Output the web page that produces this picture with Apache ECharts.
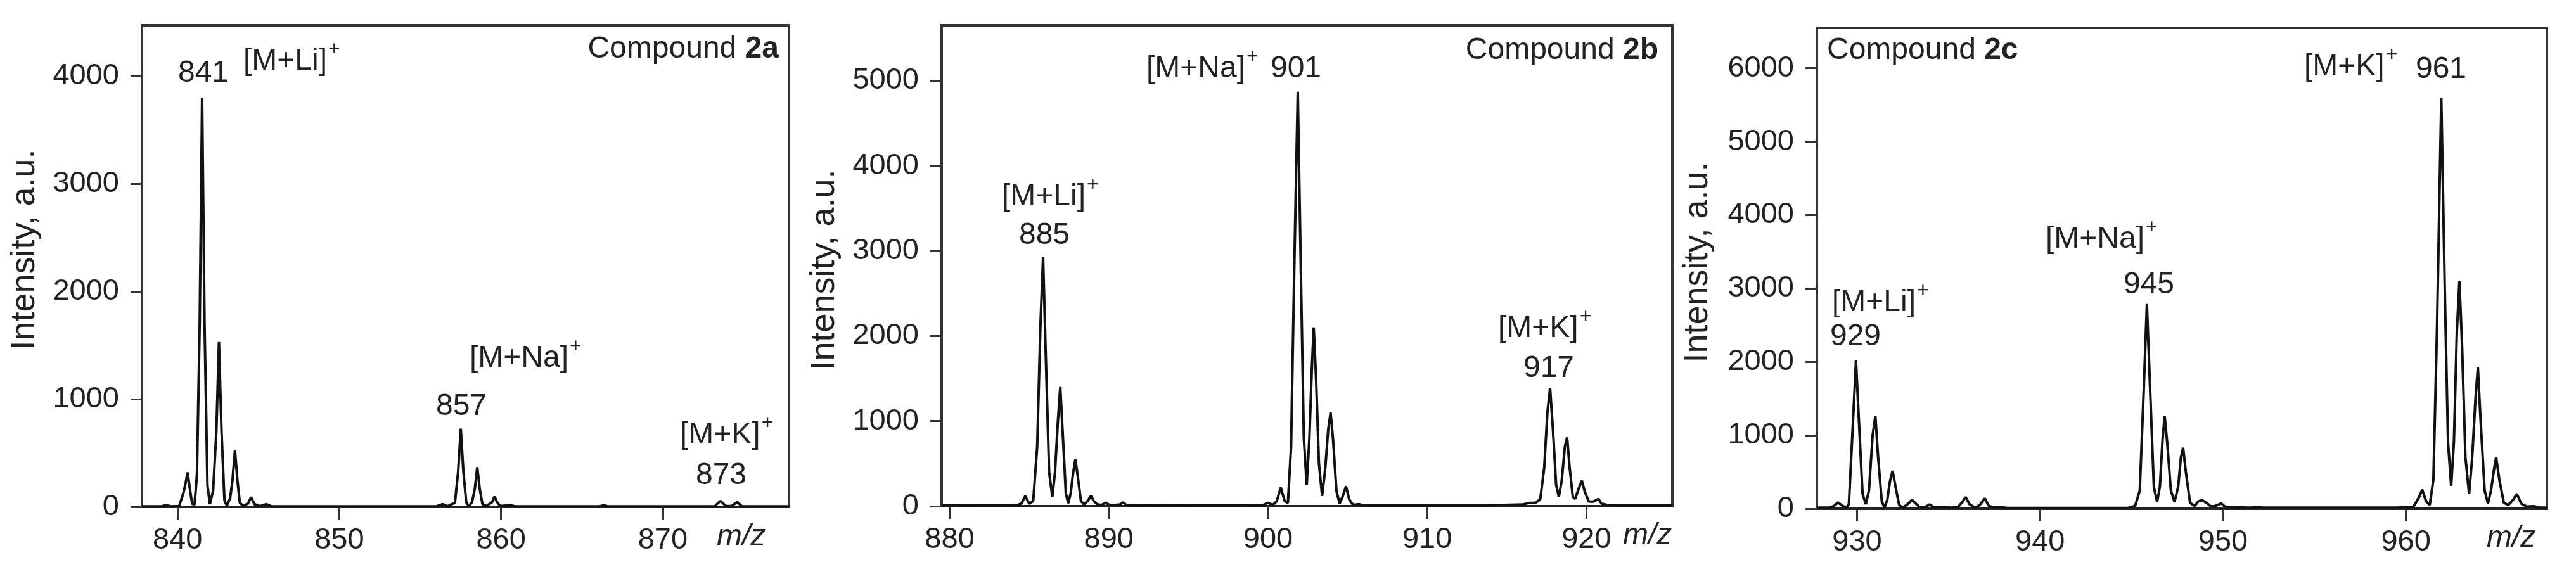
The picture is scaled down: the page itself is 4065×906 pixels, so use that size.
<!DOCTYPE html>
<html>
<head>
<meta charset="utf-8">
<title>MALDI spectra, compounds 2a-2c</title>
<script src="https://cdn.jsdelivr.net/npm/echarts@6/dist/echarts.min.js"></script>
<style>
  html, body { margin: 0; padding: 0; background: #fff; }
  #chart { width: 4065px; height: 906px; }
</style>
</head>
<body>
<div id="chart"></div>
<script>
// spectrum of compound 2a: [m/z, intensity]
const spec2a = [
  [837.8, 5], [839.0, 5], [839.3, 15], [839.6, 5], [840.1, 8], [840.3, 100], [840.38, 140],
  [840.5, 220], [840.62, 320], [840.75, 180], [840.9, 30], [841.05, 20], [841.2, 300],
  [841.37, 1700], [841.52, 3800], [841.67, 1700], [841.85, 200], [842.0, 25], [842.2, 150],
  [842.4, 700], [842.56, 1530], [842.72, 700], [842.9, 60], [843.05, 10], [843.25, 80],
  [843.4, 250], [843.55, 525], [843.7, 250], [843.85, 40], [844.05, 8], [844.35, 30],
  [844.55, 90], [844.75, 25], [845.1, 6], [845.5, 25], [845.8, 5], [856.0, 5], [856.4, 25],
  [856.7, 5], [857.15, 40], [857.35, 330], [857.51, 726], [857.67, 330], [857.85, 40],
  [858.0, 10], [858.2, 40], [858.38, 170], [858.53, 368], [858.68, 170], [858.85, 25],
  [859.1, 8], [859.45, 45], [859.6, 95], [859.75, 45], [859.95, 8], [860.57, 15], [860.9, 5],
  [866.1, 5], [866.35, 15], [866.6, 5], [873.2, 5], [873.56, 55], [873.9, 8], [874.25, 8],
  [874.6, 45], [874.9, 5], [877.8, 5]
];

// spectrum of compound 2b
const spec2b = [
  [879.5, 10], [882, 8], [884.2, 10], [884.5, 30], [884.75, 120], [885.0, 30], [885.25, 60],
  [885.5, 700], [885.7, 2100], [885.87, 2930], [886.05, 1700], [886.25, 400], [886.45, 110],
  [886.62, 400], [886.8, 1000], [886.95, 1400], [887.12, 800], [887.3, 150], [887.45, 35],
  [887.6, 150], [887.75, 380], [887.9, 550], [888.05, 350], [888.25, 60], [888.45, 20],
  [888.7, 70], [888.88, 125], [889.05, 60], [889.3, 20], [889.55, 15], [889.8, 40],
  [890.05, 15], [890.4, 15], [890.7, 20], [890.9, 45], [891.1, 15], [891.6, 10], [893.5, 12],
  [895, 8], [899.0, 10], [899.7, 15], [900.0, 40], [900.3, 15], [900.55, 60], [900.8, 220],
  [901.05, 60], [901.25, 40], [901.45, 700], [901.65, 2800], [901.87, 4870], [902.05, 2900],
  [902.25, 800], [902.43, 250], [902.6, 800], [902.75, 1600], [902.87, 2100], [903.02, 1500],
  [903.2, 500], [903.4, 120], [903.6, 450], [903.78, 900], [903.93, 1100], [904.08, 800],
  [904.3, 180], [904.5, 30], [904.7, 120], [904.9, 235], [905.1, 80], [905.35, 15],
  [905.7, 25], [906.0, 10], [910, 10], [914, 12], [916.0, 20], [916.4, 40], [916.8, 40],
  [917.1, 80], [917.35, 450], [917.55, 1100], [917.72, 1390], [917.9, 900], [918.1, 250],
  [918.27, 110], [918.45, 300], [918.65, 700], [918.79, 808], [918.95, 450], [919.15, 110],
  [919.3, 86], [919.5, 200], [919.72, 300], [919.9, 170], [920.15, 55], [920.4, 52],
  [920.6, 70], [920.76, 86], [920.95, 30], [921.3, 15], [921.6, 10], [925.4, 10]
];

// spectrum of compound 2c
const spec2c = [
  [927.8, 15], [928.5, 15], [928.75, 40], [928.96, 86], [929.2, 40], [929.4, 15], [929.55, 60],
  [929.72, 900], [929.94, 2018], [930.12, 1100], [930.3, 200], [930.48, 63], [930.65, 250],
  [930.85, 1000], [931.0, 1267], [931.15, 700], [931.35, 100], [931.5, 15], [931.65, 120],
  [931.8, 380], [931.94, 516], [932.1, 300], [932.3, 50], [932.5, 15], [932.75, 60],
  [933.0, 121], [933.25, 60], [933.45, 15], [933.7, 20], [933.96, 58], [934.2, 20],
  [934.5, 20], [934.8, 25], [935.1, 15], [935.5, 20], [935.75, 90], [935.93, 160],
  [936.15, 60], [936.45, 15], [936.7, 50], [936.98, 140], [937.2, 40], [937.45, 20],
  [937.7, 25], [938.2, 10], [942, 10], [944.8, 10], [945.2, 40], [945.45, 250], [945.65, 1500],
  [945.84, 2790], [946.02, 1600], [946.22, 300], [946.4, 95], [946.55, 300], [946.7, 950],
  [946.81, 1263], [946.95, 900], [947.15, 250], [947.35, 95], [947.55, 300], [947.7, 700],
  [947.82, 830], [947.97, 500], [948.2, 80], [948.45, 40], [948.65, 100], [948.86, 117],
  [949.1, 80], [949.35, 30], [949.6, 40], [949.9, 73], [950.1, 30], [950.5, 20], [951.5, 15],
  [951.83, 22], [952.2, 15], [956, 15], [959.5, 15], [960.4, 25], [960.7, 150], [960.89, 260],
  [961.1, 100], [961.3, 52], [961.5, 400], [961.7, 2500], [961.93, 5600], [962.12, 3000],
  [962.3, 900], [962.47, 311], [962.62, 900], [962.78, 2400], [962.92, 3100], [963.07, 2200],
  [963.25, 700], [963.45, 203], [963.62, 700], [963.8, 1500], [963.93, 1925], [964.08, 1200],
  [964.3, 250], [964.48, 74], [964.65, 250], [964.82, 550], [964.93, 700], [965.1, 400],
  [965.35, 80], [965.6, 52], [965.85, 120], [966.06, 203], [966.3, 70], [966.6, 30],
  [966.98, 35], [967.3, 15], [967.7, 15]
];

// axis ranges and tick labels
const xRanges = [[837.8, 877.8], [879.5, 925.4], [927.8, 967.7]];
const yMax = [4470, 5650, 6550];
const xTicks = [[840, 850, 860, 870], [880, 890, 900, 910, 920], [930, 940, 950, 960]];

const FONT = '"Liberation Sans", Arial, sans-serif';
const INK = '#222';

const chart = echarts.init(document.getElementById('chart'));

const grids = [
  { left: 224, top: 40, width: 1021, height: 760 },
  { left: 1486, top: 40, width: 1153, height: 759 },
  { left: 2867, top: 44, width: 1152, height: 759 }
].map(g => Object.assign(g, { show: true, borderColor: '#333', borderWidth: 4, backgroundColor: '#fff' }));

const xAxes = xRanges.map((r, i) => ({
  type: 'value',
  gridIndex: i,
  min: r[0],
  max: r[1],
  axisLine: { show: true, lineStyle: { color: INK, width: 4 } },
  axisTick: { show: true, customValues: xTicks[i], length: 20, lineStyle: { color: '#333', width: 3 } },
  axisLabel: { customValues: xTicks[i], color: INK, fontSize: 47, fontFamily: FONT, margin: 30 },
  splitLine: { show: false }
}));

const yAxes = yMax.map((m, i) => ({
  type: 'value',
  gridIndex: i,
  min: 0,
  max: m,
  interval: 1000,
  axisLine: { show: true, lineStyle: { color: '#333', width: 4 } },
  axisTick: { show: true, length: 18, lineStyle: { color: '#333', width: 3 } },
  axisLabel: {
    color: INK, fontSize: 47, fontFamily: FONT, margin: 36,
    showMaxLabel: false,
    formatter: v => String(v)
  },
  splitLine: { show: false }
}));

const series = [spec2a, spec2b, spec2c].map((d, i) => ({
  type: 'line',
  xAxisIndex: i,
  yAxisIndex: i,
  data: d,
  symbol: 'none',
  clip: true,
  lineStyle: { color: '#111', width: 4 },
  z: 3
}));

// annotation texts
const measure = document.createElement('canvas').getContext('2d');

function txt(x, y, text, align, font) {
  return {
    type: 'text', x: x, y: y, z: 10,
    style: {
      text: text,
      font: font || ('48px ' + FONT),
      fill: INK,
      textAlign: align || 'center',
      textVerticalAlign: 'middle'
    }
  };
}
// ion name with a raised "+"
function ion(x, y, name) {
  measure.font = '48px ' + FONT;
  const w = measure.measureText(name).width;
  return [
    txt(x, y, name, 'left'),
    txt(x + w + 2, y - 19, '+', 'left', '32px ' + FONT)
  ];
}
function compound(x, y, id, align) {
  return {
    type: 'text', x: x, y: y, z: 10,
    style: {
      text: 'Compound {b|' + id + '}',
      font: '48px ' + FONT,
      fill: INK,
      textAlign: align,
      textVerticalAlign: 'middle',
      rich: { b: { fontSize: 48, fontFamily: FONT, fontWeight: 'bold', fill: INK } }
    }
  };
}
function yName(x, y) {
  return {
    type: 'text', x: x, y: y, rotation: Math.PI / 2, z: 10,
    style: {
      text: 'Intensity, a.u.',
      font: '54px ' + FONT,
      fill: INK,
      textAlign: 'center',
      textVerticalAlign: 'middle'
    }
  };
}
function mz(x, y) {
  return txt(x, y, 'm/z', 'left', 'italic 48px ' + FONT);
}

const graphic = [].concat(
  // panel 2a
  yName(39, 394),
  compound(1229, 78, '2a', 'right'),
  txt(321, 116, '841'),
  ion(384, 97, '[M+Li]'),
  ion(741, 566, '[M+Na]'),
  txt(728, 642, '857'),
  ion(1073, 687, '[M+K]'),
  txt(1138, 751, '873'),
  mz(1131, 848),
  // panel 2b
  yName(1301, 426),
  compound(2617, 80, '2b', 'right'),
  ion(1809, 109, '[M+Na]'),
  txt(2045, 109, '901'),
  ion(1581, 311, '[M+Li]'),
  txt(1648, 372, '885'),
  ion(2364, 519, '[M+K]'),
  txt(2444, 582, '917'),
  mz(2561, 846),
  // panel 2c
  yName(2679, 414),
  compound(2883, 80, '2c', 'left'),
  ion(3636, 106, '[M+K]'),
  txt(3852, 110, '961'),
  ion(3228, 378, '[M+Na]'),
  txt(3391, 450, '945'),
  ion(2891, 478, '[M+Li]'),
  txt(2928, 532, '929'),
  mz(3924, 850)
);

chart.setOption({
  animation: false,
  backgroundColor: '#fff',
  textStyle: { fontFamily: FONT },
  grid: grids,
  xAxis: xAxes,
  yAxis: yAxes,
  series: series,
  graphic: graphic
});
</script>
</body>
</html>
